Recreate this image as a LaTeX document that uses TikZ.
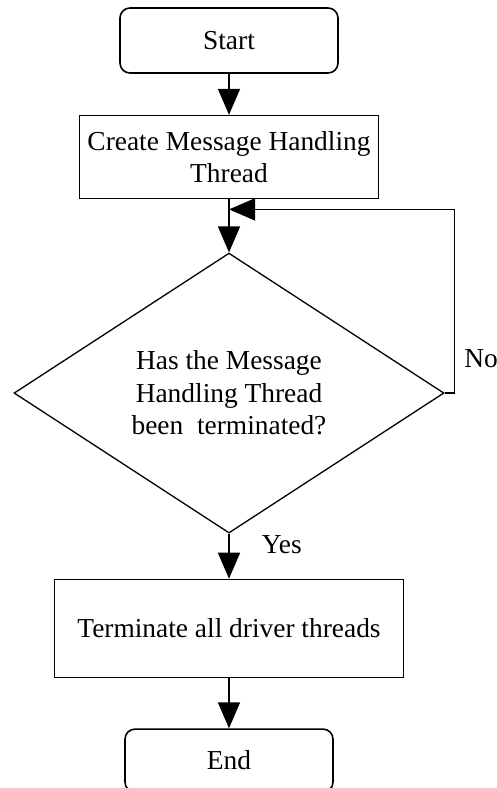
\documentclass[tikz,border=0pt]{standalone}
\usepackage{fontspec}
\setmainfont{Liberation Serif}
\usepackage{tikz}
\usetikzlibrary{arrows.meta,positioning,shapes.geometric}

\begin{document}
\begin{tikzpicture}[x=1pt, y=1pt, line width=1.6pt,
      every node/.style={font=\fontsize{27.4}{32.5}\selectfont},
      box/.style={draw, align=center, inner sep=2pt},
      term/.style={box, rounded corners=10pt},
      test/.style={draw, diamond, aspect=1.5, align=center, inner sep=0pt, line width=1.3pt},
      lbl/.style={inner sep=0pt},
      >={Triangle[length=26pt, width=22pt]}]
    \useasboundingbox (0,0) rectangle (497,-788);
    \node[term, minimum width=218pt, minimum height=65pt] (start) at (229,-40.5) {Start};
    \node[box, below=41pt of start, minimum width=299pt, minimum height=83pt] (create) {Create Message Handling\\Thread};
    \coordinate[below=10pt of create] (join);
    \node[test, below=53pt of create, minimum width=430pt, minimum height=280pt] (dia) {Has the Message\\Handling Thread\\been\ \ terminated?};
    \node[box, below=45pt of dia, minimum width=349pt, minimum height=98pt] (kill) {Terminate all driver threads};
    \node[term, below=50pt of kill, minimum width=208pt, minimum height=63pt] (end) {End};
    \node[lbl, above right=24pt and 19pt of dia.east] (no) {No};
    \node[lbl, below right=1pt and 32pt of dia.south] (yes) {Yes};
    \draw[->] (start) -- (create);
    \draw[->] (create) -- (dia);
    \draw[->] (dia.east) -- ++(10,0) |- (join);
    \draw[->] (dia) -- (kill);
    \draw[->] (kill) -- (end);
\end{tikzpicture}
\end{document}
